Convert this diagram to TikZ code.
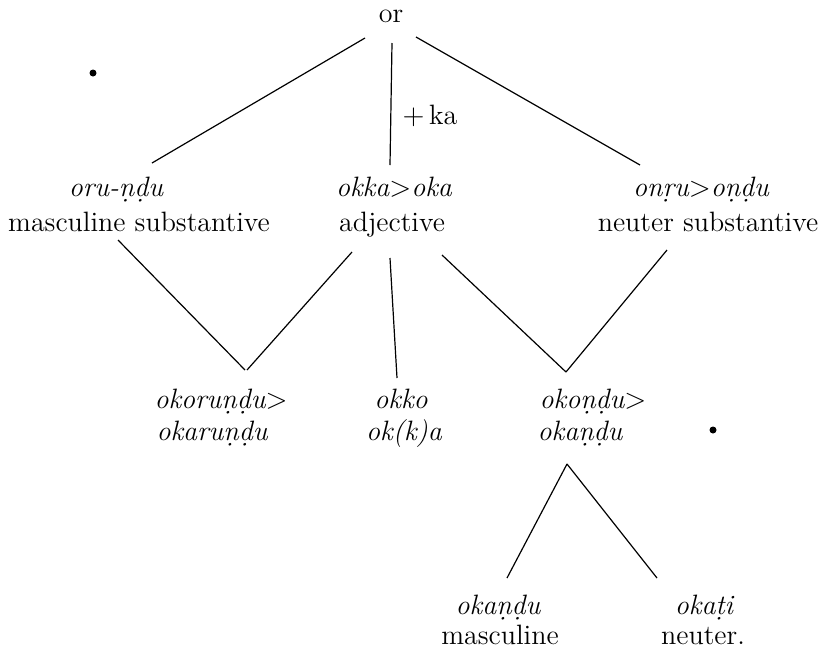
\documentclass[tikz,border=0pt]{standalone}
\usetikzlibrary{calc}
\begin{document}
\begin{tikzpicture}[x=0.5pt,y=-0.5pt,
  lbl/.style={inner sep=0pt,anchor=base,font=\fontsize{14}{16}\selectfont},
  itl/.style={lbl,font=\fontsize{14}{16}\selectfont\itshape},
  conn/.style={line width=0.6pt,black},
  speck/.style={fill=black,draw=none}]
\useasboundingbox (0,0) rectangle (820,665);
% top
\node[lbl] (or) at (391,22) {or};
\node[lbl] (plus) at (430,124) {$+$\,ka};
% row 1
\node[itl] (oru) at (116,196) {oru-ṇḍu};
\node[lbl] (masc) at (139,231) {masculine substantive};
\node[itl] (okka) at (394,196) {okka{\upshape$>$}oka};
\node[lbl] (adj) at (392,231) {adjective};
\node[itl] (onru) at (701,196) {onṛu{\upshape$>$}oṇḍu};
\node[lbl] (neut) at (708,231) {neuter substantive};
% row 2
\node[itl] (okor) at (221,408) {okoruṇḍu{\upshape$>$}};
\node[itl] (okar) at (212,440) {okaruṇḍu};
\node[itl] (okko) at (401,408) {okko};
\node[itl] (okka2) at (404,440) {ok(k)a};
\node[itl] (okon) at (593,408) {okoṇḍu{\upshape$>$}};
\node[itl] (okan) at (580,440) {okaṇḍu};
% row 3
\node[itl] (okanm) at (498,614) {okaṇḍu};
\node[lbl] (mascm) at (500,644) {masculine};
\node[itl] (okati) at (704,614) {okaṭi};
\node[lbl] (neutr) at (703,644) {neuter.};
% connectors from top
\draw[conn] ($(or.base)+(-26,16)$) -- ($(oru.base)+(36,-33)$);
\draw[conn] ($(or.base)+(1,21)$) -- ($(okka.base)+(-4,-31)$);
\draw[conn] ($(or.base)+(25,15)$) -- ($(onru.base)+(-61,-31)$);
% row 1 -> row 2
\draw[conn] ($(masc.base)+(-21,9)$) -- ($(okor.base)+(24,-38)$);
\draw[conn] ($(adj.base)+(-40,21)$) -- ($(okor.base)+(26,-38)$);
\draw[conn] ($(adj.base)+(-2,27)$) -- ($(okko.base)+(-4,-30)$);
\draw[conn] ($(adj.base)+(50,24)$) -- ($(okon.base)+(-27,-36)$);
\draw[conn] ($(neut.base)+(-41,19)$) -- ($(okon.base)+(-27,-36)$);
% row 2 -> row 3
\draw[conn] ($(okan.base)+(-13,24)$) -- ($(okanm.base)+(9,-36)$);
\draw[conn] ($(okan.base)+(-13,24)$) -- ($(okati.base)+(-47,-36)$);
% specks
\fill[speck] (93,73) circle (3.5);
\fill[speck] (713,430) circle (3.5);
\end{tikzpicture}
\end{document}
